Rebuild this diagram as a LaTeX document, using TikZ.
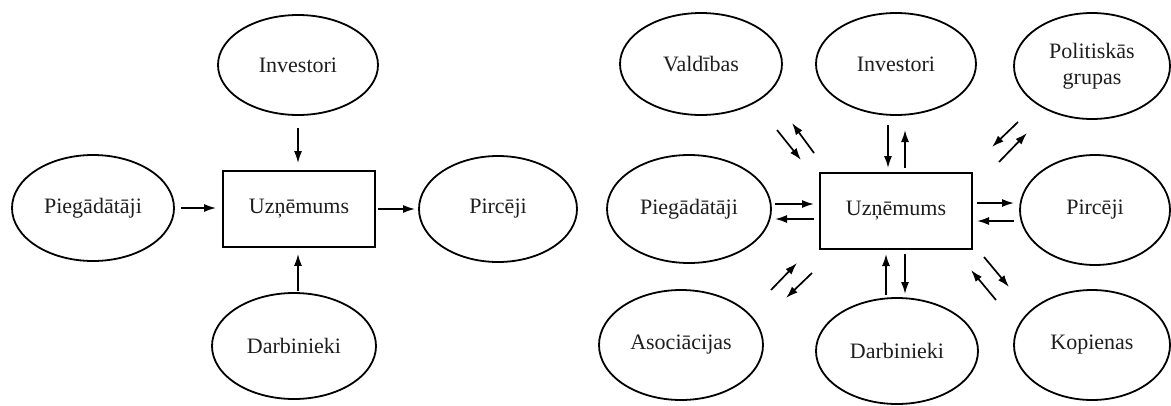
\documentclass[tikz,border=0pt]{standalone}
\usepackage{fontspec}
\setmainfont{Liberation Serif}
\usetikzlibrary{shapes.geometric,arrows.meta}
\definecolor{txt}{RGB}{30,30,30}
\begin{document}
\begin{tikzpicture}[x=1pt,y=-1pt,
  party/.style={ellipse,draw,line width=1.8pt,inner sep=0pt,text=txt,align=center,
    font=\fontsize{22}{26}\selectfont},
  firm/.style={rectangle,draw,line width=1.8pt,inner sep=0pt,minimum width=152pt,minimum height=76pt,
    text=txt,font=\fontsize{22}{26}\selectfont},
  arr/.style={line width=1.7pt,-{Latex[length=12pt,width=8pt]}}]
\useasboundingbox[fill=white] (0,0) rectangle (1171,405);

% ---------- left diagram ----------
\node[firm] (rectL) at (299,209) {Uzņēmums};
\node[party,minimum width=160pt,minimum height=100pt] (invL) at (298,65) {Investori};
\node[party,minimum width=162pt,minimum height=106pt] (pieL) at (93,208) {Piegādātāji};
\node[party,minimum width=158pt,minimum height=106pt] (pirL) at (498,209) {Pircēji};
\node[party,minimum width=164pt,minimum height=106pt] (darL) at (294,346) {Darbinieki};

\draw[arr,shorten <=12pt,shorten >=7pt] (invL.south) -- (rectL.north -| invL.south);
\draw[arr,shorten <=6pt,shorten >=6pt] (pieL.east) -- (rectL.west |- pieL.east);
\draw[arr,shorten <=2pt,shorten >=3pt] (rectL.east |- pirL.west) -- (pirL.west);
\draw[arr,shorten <=1pt,shorten >=6pt] (darL.north -| invL.south) -- (rectL.south -| invL.south);

% ---------- right diagram ----------
\node[firm] (rectR) at (896,211) {Uzņēmums};
\node[party,minimum width=162pt,minimum height=102pt] (valR) at (701,64) {Valdības};
\node[party,minimum width=160pt,minimum height=102pt] (invR) at (896,64) {Investori};
\node[party,minimum width=156pt,minimum height=106pt] (polR) at (1092,66) {Politiskās\\grupas};
\node[party,minimum width=164pt,minimum height=108pt] (pieR) at (689,209) {Piegādātāji};
\node[party,minimum width=150pt,minimum height=110pt] (pirR) at (1095,210) {Pircēji};
\node[party,minimum width=164pt,minimum height=110pt] (asoR) at (681,345) {Asociācijas};
\node[party,minimum width=162pt,minimum height=106pt] (darR) at (897,351) {Darbinieki};
\node[party,minimum width=156pt,minimum height=110pt] (kopR) at (1092,345) {Kopienas};

% arrow end points
\coordinate (i1a) at (888,125); \coordinate (i1b) at (888,168);
\coordinate (i2a) at (905,168); \coordinate (i2b) at (905,130);
\coordinate (d1a) at (886,295); \coordinate (d1b) at (886,254);
\coordinate (d2a) at (905,254); \coordinate (d2b) at (905,294);
\coordinate (p1a) at (775,204); \coordinate (p1b) at (814,204);
\coordinate (p2a) at (814,219); \coordinate (p2b) at (775,219);
\coordinate (c1a) at (977,203); \coordinate (c1b) at (1014,203);
\coordinate (c2a) at (1014,221); \coordinate (c2b) at (977,221);
\coordinate (v1a) at (777,130); \coordinate (v1b) at (801,160);
\coordinate (v2a) at (814,153); \coordinate (v2b) at (792,123);
\coordinate (g1a) at (1018,122); \coordinate (g1b) at (992,147);
\coordinate (g2a) at (999,162); \coordinate (g2b) at (1027,133);
\coordinate (a1a) at (771,290); \coordinate (a1b) at (797,263);
\coordinate (a2a) at (812,273); \coordinate (a2b) at (786,298);
\coordinate (k1a) at (984,257); \coordinate (k1b) at (1009,287);
\coordinate (k2a) at (996,300); \coordinate (k2b) at (971,270);

\foreach \n in {i1,i2,d1,d2,p1,p2,c1,c2,v1,v2,g1,g2,a1,a2,k1,k2}
  \draw[arr] (\n a) -- (\n b);
\end{tikzpicture}
\end{document}
